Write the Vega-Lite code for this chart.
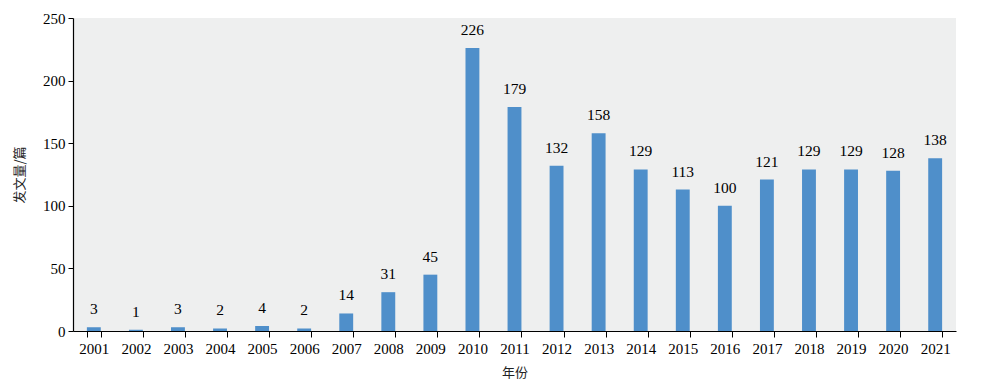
{
  "$schema": "https://vega.github.io/schema/vega-lite/v6.json",
  "width": 883,
  "height": 313,
  "autosize": {"type": "none"},
  "padding": {"left": 73, "top": 18, "right": 25, "bottom": 60},
  "background": "white",
  "config": {
    "view": {"fill": "#eeefef", "stroke": null},
    "font": "Liberation Serif, Noto Sans CJK SC"
  },
  "data": {
    "values": [
      {"year": "2001", "n": 3}, {"year": "2002", "n": 1}, {"year": "2003", "n": 3},
      {"year": "2004", "n": 2}, {"year": "2005", "n": 4}, {"year": "2006", "n": 2},
      {"year": "2007", "n": 14}, {"year": "2008", "n": 31}, {"year": "2009", "n": 45},
      {"year": "2010", "n": 226}, {"year": "2011", "n": 179}, {"year": "2012", "n": 132},
      {"year": "2013", "n": 158}, {"year": "2014", "n": 129}, {"year": "2015", "n": 113},
      {"year": "2016", "n": 100}, {"year": "2017", "n": 121}, {"year": "2018", "n": 129},
      {"year": "2019", "n": 129}, {"year": "2020", "n": 128}, {"year": "2021", "n": 138}
    ]
  },
  "encoding": {
    "x": {
      "field": "year", "type": "ordinal", "sort": null,
      "scale": {"paddingInner": 0.67, "paddingOuter": 0.33},
      "axis": {
        "title": "年份", "labelAngle": 0, "tickBand": "extent",
        "labelFont": "Liberation Serif", "labelFontSize": 15, "labelColor": "black",
        "titleFont": "Noto Sans CJK SC", "titleFontSize": 13, "titleFontWeight": "normal", "titleColor": "#222",
        "titlePadding": 10, "labelPadding": 4,
        "domainColor": "black", "tickColor": "black", "tickSize": 6, "domainWidth": 1.2
      }
    },
    "y": {
      "field": "n", "type": "quantitative",
      "scale": {"domain": [0, 250], "nice": false},
      "axis": {
        "title": "发文量/篇", "values": [0, 50, 100, 150, 200, 250], "grid": false,
        "labelFont": "Liberation Serif", "labelFontSize": 15, "labelColor": "black",
        "titleFont": "Noto Sans CJK SC", "titleFontSize": 13, "titleFontWeight": "normal", "titleColor": "#222",
        "titlePadding": 16, "labelPadding": 3,
        "domainColor": "black", "tickColor": "black", "tickSize": 5, "domainWidth": 1.2
      }
    }
  },
  "layer": [
    {"mark": {"type": "bar", "color": "#4f8fca"}},
    {
      "mark": {"type": "text", "dy": -10, "baseline": "bottom", "fontSize": 15.5, "font": "Liberation Serif", "color": "black"},
      "encoding": {"text": {"field": "n", "type": "quantitative"}}
    }
  ]
}
